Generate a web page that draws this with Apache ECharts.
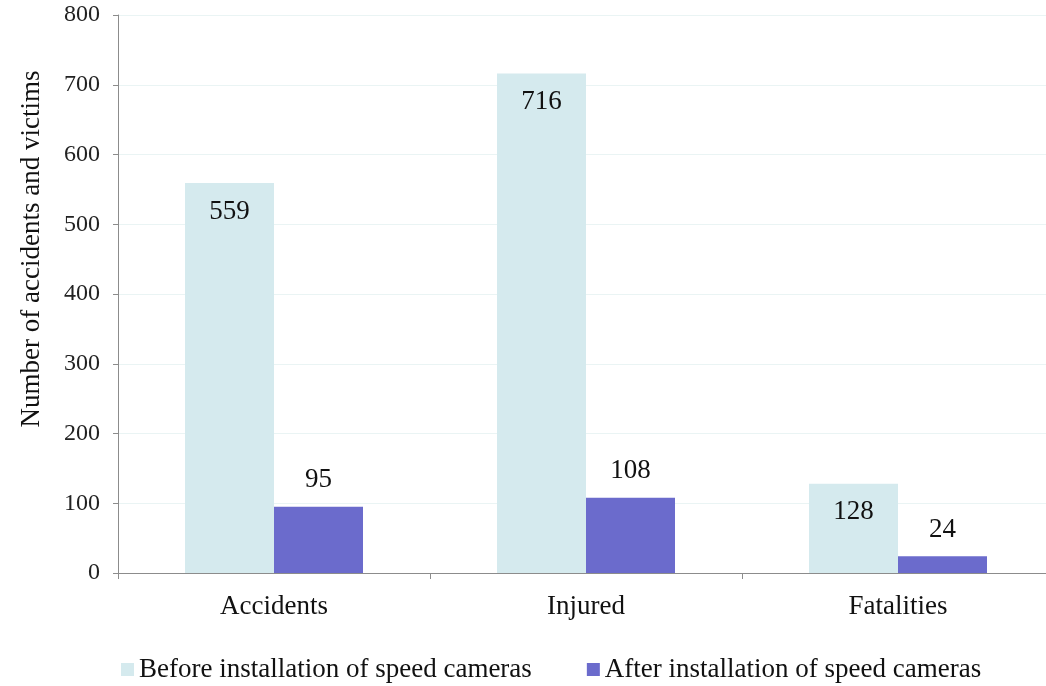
<!DOCTYPE html>
<html>
<head>
<meta charset="utf-8">
<script src="https://cdn.jsdelivr.net/npm/echarts@6/dist/echarts.min.js"></script>
<style>
html,body{margin:0;padding:0;background:#fff;overflow:hidden;width:1046px;height:686px;}
/* canvas is wider than the page so the plot area can run past the right edge */
#chart{width:1060px;height:686px;}
</style>
</head>
<body>
<div id="chart"></div>
<script>
const categories = ['Accidents', 'Injured', 'Fatalities'];
const beforeValues = [559, 716, 128];
const afterValues = [95, 108, 24];
const seriesNames = ['Before installation of speed cameras', 'After installation of speed cameras'];
const yTicks = [0, 100, 200, 300, 400, 500, 600, 700, 800];

const serif = '"Liberation Serif", "DejaVu Serif", serif';
const chart = echarts.init(document.getElementById('chart'), null, {renderer: 'canvas'});

chart.setOption({
  animation: false,
  backgroundColor: '#ffffff',
  grid: {left: 118, width: 936, top: 15, height: 558, containLabel: false},
  legend: {
    data: seriesNames,
    top: 651,
    left: 116,
    itemWidth: 13,
    itemHeight: 13,
    itemGap: 55,
    icon: 'rect',
    textStyle: {fontFamily: serif, fontSize: 27, color: '#111'}
  },
  xAxis: {
    type: 'category',
    data: categories,
    axisLine: {lineStyle: {color: '#8c8c8c', width: 1}},
    axisTick: {show: true, length: 6, lineStyle: {color: '#8c8c8c'}},
    axisLabel: {fontFamily: serif, fontSize: 27, color: '#111', margin: 20}
  },
  yAxis: {
    type: 'value',
    min: yTicks[0],
    max: yTicks[yTicks.length - 1],
    interval: 100,
    axisLine: {show: true, lineStyle: {color: '#8c8c8c', width: 1}},
    axisTick: {show: true, length: 5, lineStyle: {color: '#8c8c8c'}},
    axisLabel: {fontFamily: serif, fontSize: 24, color: '#222', margin: 18},
    splitLine: {lineStyle: {color: '#eaf4f4', width: 1}}
  },
  graphic: [{
    type: 'text',
    x: 32,
    y: 249,
    rotation: Math.PI / 2,
    style: {
      text: 'Number of accidents and victims',
      fontFamily: serif,
      fontSize: 27,
      fill: '#111',
      align: 'center',
      verticalAlign: 'middle'
    }
  }],
  series: [
    {
      name: seriesNames[0],
      type: 'bar',
      data: beforeValues,
      barWidth: 89,
      barGap: '0%',
      itemStyle: {color: '#d5eaee'},
      label: {
        show: true,
        position: 'insideTop',
        distance: 15,
        fontFamily: serif,
        fontSize: 27,
        color: '#111'
      }
    },
    {
      name: seriesNames[1],
      type: 'bar',
      data: afterValues,
      barWidth: 89,
      barGap: '0%',
      itemStyle: {color: '#6b6bcc'},
      label: {
        show: true,
        position: 'top',
        distance: 13,
        fontFamily: serif,
        fontSize: 27,
        color: '#111'
      }
    }
  ]
});
</script>
</body>
</html>
